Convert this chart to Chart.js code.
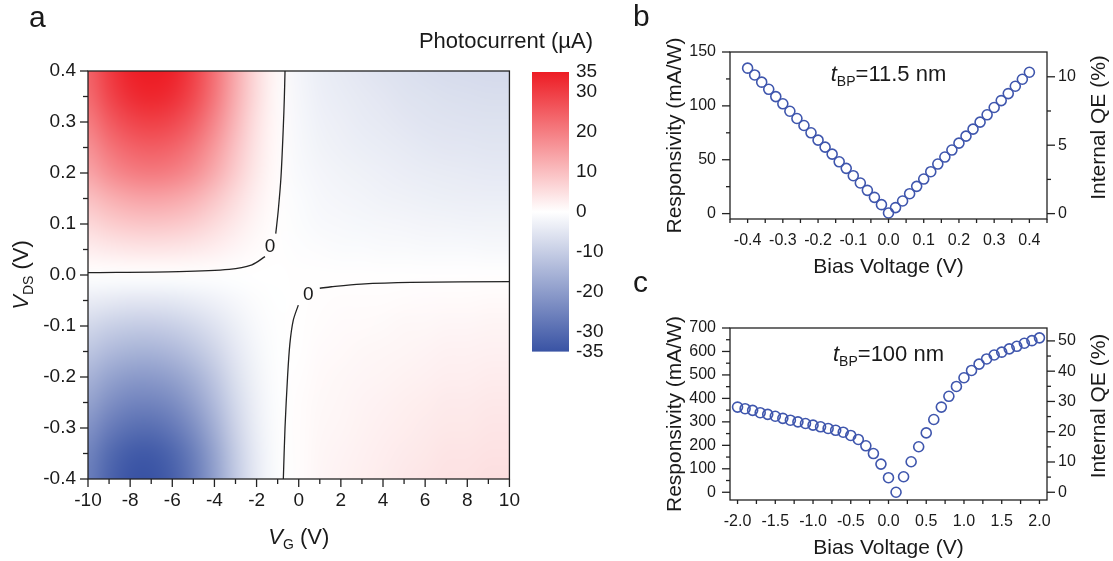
<!DOCTYPE html>
<html>
<head>
<meta charset="utf-8">
<script src="https://cdn.jsdelivr.net/npm/chart.js@4.4.1/dist/chart.umd.min.js"></script>
<style>
  body { margin: 0; background: #fff; width: 1113px; height: 561px; position: relative; overflow: hidden; }
  canvas { position: absolute; }
</style>
</head>
<body>
<canvas id="mapChart" width="530" height="561" style="left:0px;top:0px"></canvas>
<canvas id="barChart" width="220" height="350" style="left:400px;top:20px"></canvas>
<canvas id="chartB" width="483" height="280" style="left:630px;top:0px"></canvas>
<canvas id="chartC" width="483" height="296" style="left:630px;top:265px"></canvas>
<script>
// ---- panel a: photocurrent map ----
var vgValues = [-10,-9,-8,-7,-6,-5,-4,-3,-2,-1,0,1,2,3,4,5,6,7,8,9,10];
var vdsValues = [0.4,0.35,0.3,0.25,0.2,0.15,0.1,0.05,0,-0.05,-0.1,-0.15,-0.2,-0.25,-0.3,-0.35,-0.4];
// one row per VDS value (top to bottom), one column per VG value
var photocurrent = [
  [24.0,30.0,34.0,35.0,34.0,29.4,22.1,13.3,5.6,1.1,-2.0,-3.5,-4.3,-5.0,-5.6,-6.2,-6.7,-7.1,-7.3,-7.5,-7.5],
  [22.8,28.5,32.2,33.5,32.2,28.1,21.1,12.7,5.4,1.0,-1.8,-3.2,-3.9,-4.5,-5.0,-5.6,-6.0,-6.4,-6.6,-6.8,-6.8],
  [20.1,25.1,28.3,29.5,28.3,24.8,18.6,11.2,4.7,0.9,-1.6,-2.8,-3.4,-4.0,-4.5,-5.0,-5.4,-5.7,-5.8,-6.0,-6.0],
  [17.0,21.3,24.0,25.0,24.0,21.0,15.8,9.5,4.0,0.8,-1.4,-2.5,-3.0,-3.5,-3.9,-4.3,-4.7,-5.0,-5.1,-5.3,-5.3],
  [13.9,17.4,19.7,20.5,19.7,17.2,12.9,7.8,3.3,0.6,-1.2,-2.0,-2.5,-2.9,-3.2,-3.6,-3.9,-4.1,-4.2,-4.4,-4.4],
  [9.7,12.1,13.7,14.3,13.7,12.0,9.0,5.4,2.3,0.5,-0.9,-1.6,-2.0,-2.3,-2.6,-2.9,-3.1,-3.3,-3.4,-3.5,-3.5],
  [6.0,7.6,8.6,8.9,8.6,7.5,5.6,3.4,1.4,0.3,-0.7,-1.2,-1.4,-1.7,-1.8,-2.0,-2.2,-2.3,-2.4,-2.5,-2.5],
  [2.7,3.4,3.8,4.0,3.8,3.4,2.6,1.5,0.6,0.2,-0.4,-0.6,-0.8,-0.9,-1.0,-1.1,-1.2,-1.3,-1.3,-1.4,-1.4],
  [-0.2,-0.2,-0.2,-0.2,-0.2,-0.2,-0.2,-0.1,0.0,0.0,0.1,0.2,0.2,0.2,0.2,0.2,0.2,0.2,0.2,0.2,0.2],
  [-3.8,-4.5,-5.0,-5.0,-4.7,-3.9,-2.8,-1.6,-0.6,-0.1,0.1,0.3,0.4,0.5,0.5,0.6,0.7,0.8,0.8,0.9,0.9],
  [-7.9,-9.5,-10.4,-10.5,-9.8,-8.2,-5.9,-3.3,-1.3,-0.2,0.2,0.5,0.7,0.8,1.0,1.2,1.3,1.5,1.5,1.7,1.7],
  [-11.6,-14.0,-15.3,-15.5,-14.4,-12.1,-8.7,-4.8,-1.9,-0.3,0.2,0.7,0.9,1.2,1.4,1.6,1.8,2.1,2.1,2.3,2.3],
  [-15.4,-18.5,-20.3,-20.5,-19.1,-16.0,-11.5,-6.4,-2.5,-0.4,0.3,0.9,1.2,1.5,1.7,2.0,2.3,2.6,2.6,2.9,2.9],
  [-18.8,-22.5,-24.8,-25.0,-23.3,-19.5,-14.0,-7.8,-3.0,-0.5,0.4,1.1,1.4,1.8,2.1,2.5,2.8,3.2,3.2,3.5,3.5],
  [-22.1,-26.6,-29.2,-29.5,-27.4,-23.0,-16.5,-9.1,-3.5,-0.6,0.4,1.2,1.6,2.0,2.4,2.8,3.2,3.6,3.6,4.0,4.0],
  [-25.1,-30.2,-33.2,-33.5,-31.2,-26.1,-18.8,-10.4,-4.0,-0.7,0.5,1.4,1.8,2.3,2.7,3.2,3.6,4.1,4.1,4.5,4.5],
  [-26.3,-31.5,-34.7,-35.0,-32.6,-27.3,-19.6,-10.9,-4.2,-0.7,0.5,1.5,2.0,2.5,3.0,3.5,4.0,4.5,4.5,5.0,5.0]
];
// zero contour, two branches (null = gap where the "0" label sits)
var contourUpperVG  = [-0.65,-0.68,-0.73,-0.84,-0.97,-1.09,null,-1.6,-2.22,-3.3,-5.68,-10];
var contourUpperVDS = [0.4,0.35,0.291,0.193,0.127,0.081,null,0.036,0.020,0.011,0.0065,0.0045];
var contourLowerVG  = [10,5.32,2.96,1.55,1.0,null,-0.02,-0.26,-0.42,-0.53,-0.65,-0.73];
var contourLowerVDS = [-0.013,-0.0144,-0.0177,-0.023,-0.026,null,-0.059,-0.089,-0.135,-0.2,-0.299,-0.4];
var contourLabelVG  = [-1.36, 0.45];
var contourLabelVDS = [0.056, -0.039];
var vgMajor = [-10,-8,-6,-4,-2,0,2,4,6,8,10];
var vgMinor = [-9,-7,-5,-3,-1,1,3,5,7,9];
var vdsMajor = [-0.4,-0.3,-0.2,-0.1,0,0.1,0.2,0.3,0.4];
var vdsMinor = [-0.35,-0.25,-0.15,-0.05,0.05,0.15,0.25,0.35];
// colour bar
var cbTicks = [35,30,20,10,0,-10,-20,-30,-35];
var cmapValues = [-35, 0, 35];
var cmapColors = [[57,83,164],[255,255,255],[237,28,36]];

// ---- panel b: t_BP = 11.5 nm ----
var biasB = [-0.4,-0.38,-0.36,-0.34,-0.32,-0.3,-0.28,-0.26,-0.24,-0.22,-0.2,-0.18,-0.16,-0.14,-0.12,-0.1,-0.08,-0.06,-0.04,-0.02,0,
             0.02,0.04,0.06,0.08,0.1,0.12,0.14,0.16,0.18,0.2,0.22,0.24,0.26,0.28,0.3,0.32,0.34,0.36,0.38,0.4];
var responsivityB = [135.0,128.7,122.0,115.4,108.6,101.9,95.0,88.3,81.8,75.0,68.2,61.7,55.2,48.1,42.0,35.2,28.4,21.6,15.1,8.3,0.6,
                     5.6,11.7,18.5,25.3,32.1,38.9,46.0,52.5,59.0,65.4,71.9,78.4,84.9,91.7,98.5,104.9,111.4,118.2,124.7,131.2];
var qeFactorB = 12.7; // mA/W per % internal QE
var biasTicksB = [-0.4,-0.3,-0.2,-0.1,0,0.1,0.2,0.3,0.4];
var biasMinorB = [-0.45,-0.35,-0.25,-0.15,-0.05,0.05,0.15,0.25,0.35,0.45];
var respTicksB = [0,50,100,150];
var respMinorB = [25,75,125];
var qeTicksB = [0,5,10];
var qeMinorB = [2.5,7.5];

// ---- panel c: t_BP = 100 nm ----
var biasC = [-2.0,-1.9,-1.8,-1.7,-1.6,-1.5,-1.4,-1.3,-1.2,-1.1,-1.0,-0.9,-0.8,-0.7,-0.6,-0.5,-0.4,-0.3,-0.2,-0.1,0.0,
             0.1,0.2,0.3,0.4,0.5,0.6,0.7,0.8,0.9,1.0,1.1,1.2,1.3,1.4,1.5,1.6,1.7,1.8,1.9,2.0];
var responsivityC = [363,356,349,339,332,324,315,307,300,293,286,279,272,264,256,242,225,198,165,120,62,
                     0,66,130,194,253,310,363,409,451,488,519,546,568,585,597,611,622,635,646,658];
var qeFactorC = 12.9;
var biasTicksC = [-2.0,-1.5,-1.0,-0.5,0,0.5,1.0,1.5,2.0];
var biasMinorC = [-1.75,-1.25,-0.75,-0.25,0.25,0.75,1.25,1.75];
var respTicksC = [0,100,200,300,400,500,600,700];
var respMinorC = [50,150,250,350,450,550,650];
var qeTicksC = [0,10,20,30,40,50];
var qeMinorC = [5,15,25,35,45];

var FONT = 'Liberation Sans, Arial, Helvetica, sans-serif';
var INK = '#1a1a1a';
var BLUE = '#3f56ad';
Chart.defaults.font.family = FONT;
Chart.defaults.color = INK;
Chart.defaults.animation = false;
Chart.defaults.plugins.legend.display = false;
Chart.defaults.plugins.tooltip.enabled = false;

function colorFor(v) {
  if (v <= cmapValues[0]) return cmapColors[0];
  for (var i = 1; i < cmapValues.length; i++) {
    if (v <= cmapValues[i]) {
      var t = (v - cmapValues[i-1]) / (cmapValues[i] - cmapValues[i-1]);
      var a = cmapColors[i-1], b = cmapColors[i];
      return [a[0] + (b[0]-a[0])*t, a[1] + (b[1]-a[1])*t, a[2] + (b[2]-a[2])*t];
    }
  }
  return cmapColors[cmapColors.length - 1];
}

function toPoints(xs, ys) {
  return xs.map(function(x, i) { return {x: x, y: ys[i]}; });
}

// text made of pieces (italic letter, subscript ...), centred on (x, y)
function drawRich(ctx, parts, x, y, rot) {
  ctx.save();
  ctx.translate(x, y);
  if (rot) ctx.rotate(rot);
  ctx.fillStyle = INK;
  ctx.textBaseline = 'alphabetic';
  var w = 0;
  parts.forEach(function(p) { ctx.font = p.f; w += ctx.measureText(p.t).width; });
  var cx = -w / 2;
  parts.forEach(function(p) {
    ctx.font = p.f;
    ctx.fillText(p.t, cx, 7.5 + (p.dy || 0));
    cx += ctx.measureText(p.t).width;
  });
  ctx.restore();
}

function scaleCfg(o) {
  return {
    type: 'linear', position: o.position, min: o.min, max: o.max, display: true,
    afterBuildTicks: function(s) { s.ticks = o.labels.map(function(v) { return {value: v}; }); },
    afterFit: function(s) { if (s.isHorizontal()) s.height = o.size; else s.width = o.size; },
    ticks: {autoSkip: false, maxRotation: 0, padding: o.pad, font: {size: o.font},
            callback: function(v) { return o.fmt(v); }},
    grid: {display: false, drawTicks: false},
    border: {display: false}
  };
}

// box outline, tick marks and extra text
function framePlugin(ticks, texts) {
  return {
    id: 'frame',
    afterDraw: function(chart) {
      var ctx = chart.ctx, a = chart.chartArea;
      ctx.save();
      ctx.strokeStyle = '#222';
      ctx.lineWidth = 1.3;
      ctx.strokeRect(a.left, a.top, a.right - a.left, a.bottom - a.top);
      ticks.forEach(function(t) {
        var s = chart.scales[t.scale];
        t.values.forEach(function(v) {
          var p = s.getPixelForValue(v);
          ctx.beginPath();
          if (t.side === 'bottom') { ctx.moveTo(p, a.bottom); ctx.lineTo(p, a.bottom + t.len); }
          else if (t.side === 'left') { ctx.moveTo(a.left, p); ctx.lineTo(a.left - t.len, p); }
          else { ctx.moveTo(a.right, p); ctx.lineTo(a.right + t.len, p); }
          ctx.stroke();
        });
      });
      ctx.restore();
      if (texts) texts(chart, ctx, a);
    }
  };
}

// ---------- panel a ----------
var heatPlugin = {
  id: 'heat',
  beforeDatasetsDraw: function(chart) {
    var ctx = chart.ctx, a = chart.chartArea, xs = chart.scales.x, ys = chart.scales.y;
    var nx = vgValues.length, ny = vdsValues.length;
    var off = document.createElement('canvas');
    off.width = nx; off.height = ny;
    var octx = off.getContext('2d');
    var img = octx.createImageData(nx, ny);
    for (var j = 0; j < ny; j++) {
      for (var i = 0; i < nx; i++) {
        var c = colorFor(photocurrent[j][i]);
        var k = (j * nx + i) * 4;
        img.data[k] = c[0]; img.data[k+1] = c[1]; img.data[k+2] = c[2]; img.data[k+3] = 255;
      }
    }
    octx.putImageData(img, 0, 0);
    var dx = (vgValues[1] - vgValues[0]) / 2, dy = (vdsValues[0] - vdsValues[1]) / 2;
    var x0 = xs.getPixelForValue(vgValues[0] - dx), x1 = xs.getPixelForValue(vgValues[nx-1] + dx);
    var y0 = ys.getPixelForValue(vdsValues[0] + dy), y1 = ys.getPixelForValue(vdsValues[ny-1] - dy);
    ctx.save();
    ctx.beginPath();
    ctx.rect(a.left, a.top, a.right - a.left, a.bottom - a.top);
    ctx.clip();
    ctx.imageSmoothingEnabled = true;
    ctx.imageSmoothingQuality = 'high';
    ctx.drawImage(off, x0, y0, x1 - x0, y1 - y0);
    ctx.restore();
  },
  afterDatasetsDraw: function(chart) {
    var ctx = chart.ctx, xs = chart.scales.x, ys = chart.scales.y;
    ctx.save();
    ctx.fillStyle = INK;
    ctx.font = '19px ' + FONT;
    ctx.textAlign = 'center';
    ctx.textBaseline = 'middle';
    contourLabelVG.forEach(function(v, i) {
      ctx.fillText('0', xs.getPixelForValue(v), ys.getPixelForValue(contourLabelVDS[i]));
    });
    ctx.restore();
  }
};

var contourStyle = {showLine: true, pointRadius: 0, borderColor: '#222', borderWidth: 1.3,
                    tension: 0.3, spanGaps: false, fill: false};

new Chart(document.getElementById('mapChart'), {
  type: 'scatter',
  data: {
    datasets: [
      Object.assign({data: toPoints(contourUpperVG, contourUpperVDS)}, contourStyle),
      Object.assign({data: toPoints(contourLowerVG, contourLowerVDS)}, contourStyle)
    ]
  },
  options: {
    responsive: false,
    layout: {padding: {top: 71, right: 17, left: 0, bottom: 0}},
    scales: {
      x: scaleCfg({position: 'bottom', min: -10, max: 10, labels: vgMajor, pad: 10, font: 19, size: 82,
                   fmt: function(v) { return String(v); }}),
      y: scaleCfg({position: 'left', min: -0.4, max: 0.4, labels: vdsMajor, pad: 12, font: 19, size: 88,
                   fmt: function(v) { return v.toFixed(1); }})
    }
  },
  plugins: [heatPlugin, framePlugin([
    {scale: 'x', side: 'bottom', values: vgMajor, len: 8},
    {scale: 'x', side: 'bottom', values: vgMinor, len: 5},
    {scale: 'y', side: 'left', values: vdsMajor, len: 8},
    {scale: 'y', side: 'left', values: vdsMinor, len: 5}
  ], function(chart, ctx, a) {
    var big = '22px ' + FONT, bigI = 'italic 22px ' + FONT, sub = '14px ' + FONT;
    drawRich(ctx, [{t: 'V', f: bigI}, {t: 'G', f: sub, dy: 5}, {t: ' (V)', f: big}],
             (a.left + a.right) / 2, a.bottom + 57, 0);
    drawRich(ctx, [{t: 'V', f: bigI}, {t: 'DS', f: sub, dy: 5}, {t: ' (V)', f: big}],
             20, (a.top + a.bottom) / 2, -Math.PI / 2);
    ctx.save();
    ctx.fillStyle = INK;
    ctx.font = '30px ' + FONT;
    ctx.fillText('a', 29, 27);
    ctx.restore();
  })]
});

// colour bar
new Chart(document.getElementById('barChart'), {
  type: 'scatter',
  data: {datasets: []},
  options: {
    responsive: false,
    layout: {padding: {top: 52, right: 0, left: 132, bottom: 17}},
    scales: {
      x: {type: 'linear', display: false, min: 0, max: 1},
      y: scaleCfg({position: 'right', min: -35, max: 35, labels: cbTicks, pad: 7, font: 19, size: 51,
                   fmt: function(v) { return String(v); }})
    }
  },
  plugins: [{
    id: 'cbar',
    beforeDraw: function(chart) {
      var ctx = chart.ctx, a = chart.chartArea, ys = chart.scales.y;
      var yLo = ys.getPixelForValue(cmapValues[0]);
      var yHi = ys.getPixelForValue(cmapValues[cmapValues.length - 1]);
      var g = ctx.createLinearGradient(0, yLo, 0, yHi);
      cmapValues.forEach(function(v, i) {
        var c = cmapColors[i];
        g.addColorStop((v - cmapValues[0]) / (cmapValues[cmapValues.length-1] - cmapValues[0]),
                       'rgb(' + c[0] + ',' + c[1] + ',' + c[2] + ')');
      });
      ctx.save();
      ctx.fillStyle = g;
      ctx.fillRect(a.left, yHi, a.right - a.left, yLo - yHi);
      ctx.fillStyle = INK;
      ctx.font = '22px ' + FONT;
      ctx.textAlign = 'right';
      ctx.textBaseline = 'middle';
      ctx.fillText('Photocurrent (\u00b5A)', 193, 22);
      ctx.restore();
    }
  }]
});

// ---------- panels b and c ----------
function responsivityChart(id, o) {
  return new Chart(document.getElementById(id), {
    type: 'scatter',
    data: {
      datasets: [{
        data: toPoints(o.bias, o.resp),
        pointStyle: 'circle', pointRadius: 5, pointBorderWidth: 1.6,
        pointBorderColor: BLUE, pointBackgroundColor: 'rgba(0,0,0,0)', clip: false
      }]
    },
    options: {
      responsive: false,
      layout: {padding: {top: o.top, right: 0, left: 0, bottom: 0}},
      scales: {
        x: scaleCfg({position: 'bottom', min: o.xMin, max: o.xMax, labels: o.xTicks, pad: 12, font: 16, size: o.xSize,
                     fmt: function(v) { return v.toFixed(1); }}),
        y: scaleCfg({position: 'left', min: o.yMin, max: o.yMax, labels: o.yTicks, pad: 14, font: 16, size: 100,
                     fmt: function(v) { return String(v); }}),
        y2: scaleCfg({position: 'right', min: o.yMin / o.qe, max: o.yMax / o.qe, labels: o.qTicks, pad: 11, font: 16, size: 66,
                      fmt: function(v) { return String(v); }})
      }
    },
    plugins: [framePlugin([
      {scale: 'x', side: 'bottom', values: o.xTicks, len: 4},
      {scale: 'x', side: 'bottom', values: o.xMinor, len: 4},
      {scale: 'y', side: 'left', values: o.yTicks, len: 8},
      {scale: 'y', side: 'left', values: o.yMinor, len: 4},
      {scale: 'y2', side: 'right', values: o.qTicks, len: 8},
      {scale: 'y2', side: 'right', values: o.qMinor, len: 4}
    ], function(chart, ctx, a) {
      var f = '21px ' + FONT;
      var cy = (a.top + a.bottom) / 2;
      drawRich(ctx, [{t: 'Bias Voltage (V)', f: f}], (a.left + a.right) / 2, a.bottom + 46, 0);
      drawRich(ctx, [{t: 'Responsivity (mA/W)', f: f}], a.left - 57, cy, -Math.PI / 2);
      drawRich(ctx, [{t: 'Internal QE (%)', f: f}], a.right + 50, cy - 8, -Math.PI / 2);
      drawRich(ctx, [{t: 't', f: 'italic 22px ' + FONT}, {t: 'BP', f: '14px ' + FONT, dy: 5},
                     {t: o.label, f: '22px ' + FONT}], (a.left + a.right) / 2, a.top + o.labelDy, 0);
      ctx.save();
      ctx.fillStyle = INK;
      ctx.font = '30px ' + FONT;
      ctx.fillText(o.letter, 3, o.letterY);
      ctx.restore();
    })]
  });
}

responsivityChart('chartB', {
  bias: biasB, resp: responsivityB, qe: qeFactorB, top: 52, xSize: 61,
  xMin: -0.45, xMax: 0.45, yMin: -5, yMax: 150,
  xTicks: biasTicksB, xMinor: biasMinorB, yTicks: respTicksB, yMinor: respMinorB,
  qTicks: qeTicksB, qMinor: qeMinorB, label: '=11.5 nm', labelDy: 21, letter: 'b', letterY: 26
});

responsivityChart('chartC', {
  bias: biasC, resp: responsivityC, qe: qeFactorC, top: 63, xSize: 61,
  xMin: -2.1, xMax: 2.1, yMin: -33, yMax: 700,
  xTicks: biasTicksC, xMinor: biasMinorC, yTicks: respTicksC, yMinor: respMinorC,
  qTicks: qeTicksC, qMinor: qeMinorC, label: '=100 nm', labelDy: 25, letter: 'c', letterY: 27
});
</script>
</body>
</html>
